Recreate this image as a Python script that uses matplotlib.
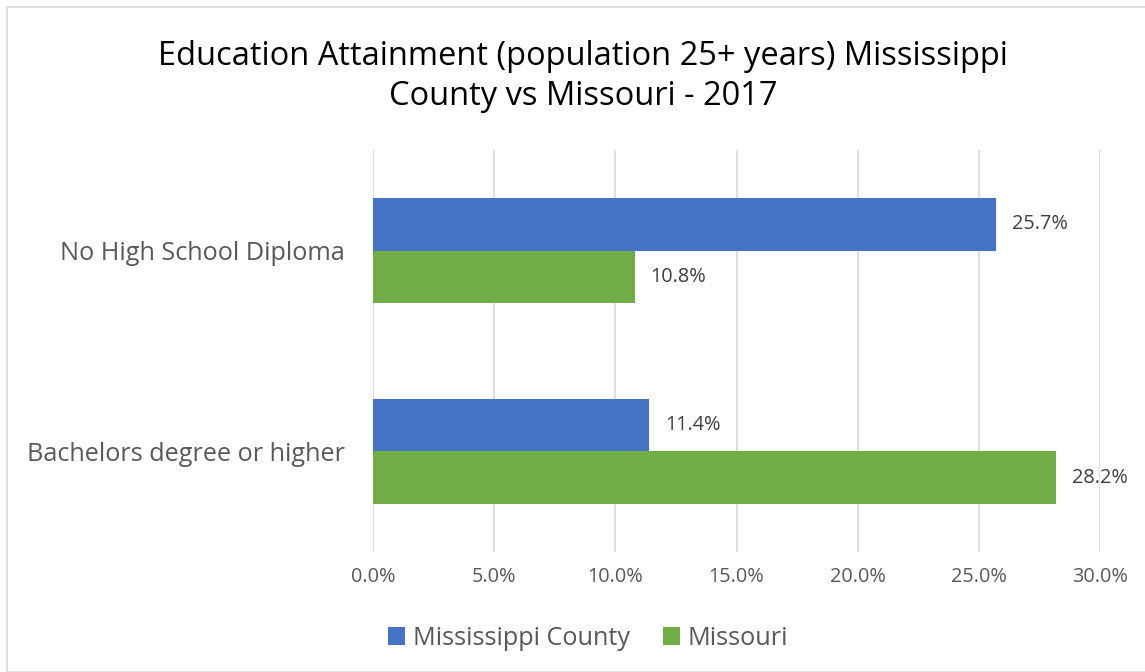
import matplotlib
matplotlib.use('Agg')
import matplotlib.pyplot as plt
from matplotlib.patches import Rectangle
from matplotlib.ticker import FuncFormatter

matplotlib.rc('font', family='Open Sans')

categories = ['Bachelors degree or higher', 'No High School Diploma']
county = [11.4, 25.7]
missouri = [28.2, 10.8]
series_names = ['Mississippi County', 'Missouri']

blue = '#4472C4'
green = '#70AD47'
grey = '#595959'

fig = plt.figure(figsize=(11.45, 6.72), dpi=100)
fig.patches.append(Rectangle((7 / 1145, 0), 1.0, 1 - 7 / 672, transform=fig.transFigure,
                             fill=False, edgecolor='#D9D9D9', lw=1.2))
ax = fig.add_axes([373 / 1145, 120 / 672, 727 / 1145, 402 / 672])

h = 0.259
y = range(len(categories))
b1 = ax.barh([i + h / 2 for i in y], county, height=h, color=blue, label=series_names[0])
b2 = ax.barh([i - h / 2 for i in y], missouri, height=h, color=green, label=series_names[1])

for bars, vals in ((b1, county), (b2, missouri)):
    for bar, v in zip(bars, vals):
        ax.text(v + 0.65, bar.get_y() + bar.get_height() / 2, '%.1f%%' % v,
                va='center', ha='left', fontsize=14.3, color='#404040')

ax.set_xlim(0, 30)
ax.set_ylim(-0.5, 1.5)
ax.set_xticks([0, 5, 10, 15, 20, 25, 30])
ax.xaxis.set_major_formatter(FuncFormatter(lambda v, p: '%.1f%%' % v))
ax.set_yticks(list(y))
ax.set_yticklabels(categories)
ax.tick_params(axis='x', length=0, pad=11, labelsize=14.3, labelcolor=grey)
ax.tick_params(axis='y', length=0, pad=20, labelsize=18.2, labelcolor=grey)
ax.grid(axis='x', color='#D9D9D9', lw=1.2)
ax.set_axisbelow(True)
for s in ax.spines.values():
    s.set_visible(False)

fig.text(0.509, 0.886, 'Education Attainment (population 25+ years) Mississippi\nCounty vs Missouri - 2017',
         ha='center', va='center', fontsize=23.5, color='black', linespacing=1.3)

fig.legend(handles=[b1, b2], loc='center', bbox_to_anchor=(0.5135, 0.05), ncol=2, frameon=False,
           fontsize=18.2, labelcolor=grey, handlelength=0.67, handleheight=0.67,
           handletextpad=0.3, columnspacing=1.3)

fig.savefig('out.png', dpi=100)
